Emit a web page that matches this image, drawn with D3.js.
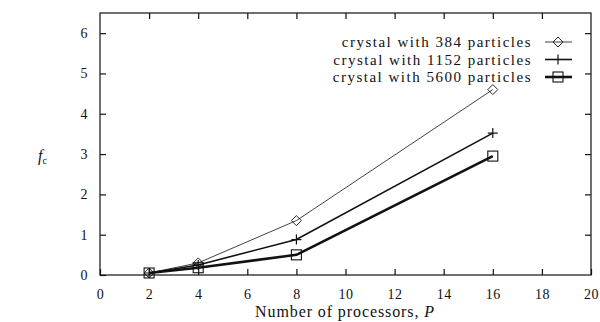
<!DOCTYPE html>
<html>
<head>
<meta charset="utf-8">
<script src="https://cdn.jsdelivr.net/npm/d3@7"></script>
<style>
  body { margin: 0; background: #fff; }
  svg text { font-family: "Liberation Serif", "DejaVu Serif", serif; fill: #111; }
</style>
</head>
<body>
<svg id="chart" width="600" height="322"></svg>
<script>
// data
const processors = [2, 4, 8, 16];
const crystal384 = [0.05, 0.30, 1.35, 4.60];
const crystal1152 = [0.05, 0.25, 0.88, 3.52];
const crystal5600 = [0.05, 0.18, 0.50, 2.95];
const xTicks = [0, 2, 4, 6, 8, 10, 12, 14, 16, 18, 20];
const yTicks = [0, 1, 2, 3, 4, 5, 6];

const series = [
  { label: 'crystal with 384 particles', values: crystal384, marker: 'diamond', width: 0.8 },
  { label: 'crystal with 1152 particles', values: crystal1152, marker: 'plus', width: 1.6 },
  { label: 'crystal with 5600 particles', values: crystal5600, marker: 'square', width: 2.6 }
];

const margin = { top: 13, right: 9, bottom: 47, left: 100 };
const width = 600, height = 322;
const innerW = width - margin.left - margin.right;
const innerH = height - margin.top - margin.bottom;

const svg = d3.select('#chart');
const g = svg.append('g').attr('transform', `translate(${margin.left},${margin.top})`);

const x = d3.scaleLinear().domain([0, 20]).range([0, innerW]);
const y = d3.scaleLinear().domain([0, 6.5]).range([innerH, 0]);

// frame
g.append('rect')
  .attr('width', innerW).attr('height', innerH)
  .attr('fill', 'none').attr('stroke', '#111').attr('stroke-width', 1.2);

// axes with inward ticks
const tickLen = 6;
const fmt = d3.format('d');
g.append('g')
  .attr('transform', `translate(0,${innerH})`)
  .call(d3.axisBottom(x).tickValues(xTicks).tickSize(-tickLen).tickPadding(14).tickFormat(fmt))
  .call(a => a.select('.domain').remove());

g.append('g')
  .call(d3.axisTop(x).tickValues(xTicks.slice(1, -1)).tickSize(-tickLen).tickFormat(''))
  .call(a => a.select('.domain').remove());

g.append('g')
  .call(d3.axisLeft(y).tickValues(yTicks).tickSize(-tickLen).tickPadding(12).tickFormat(fmt))
  .call(a => a.select('.domain').remove());

g.append('g')
  .attr('transform', `translate(${innerW},0)`)
  .call(d3.axisRight(y).tickValues(yTicks.slice(1)).tickSize(-tickLen).tickFormat(''))
  .call(a => a.select('.domain').remove());

g.selectAll('.tick line').attr('stroke', '#111').attr('stroke-width', 1.2);
g.selectAll('.tick text')
  .style('font-family', '"Liberation Serif", serif')
  .style('font-size', '14px')
  .style('letter-spacing', '0.5px');

// markers
function drawMarker(sel, type, cx, cy) {
  const s = 5;
  if (type === 'diamond') {
    sel.append('path')
      .attr('d', `M${cx},${cy - s} L${cx + s},${cy} L${cx},${cy + s} L${cx - s},${cy} Z`)
      .attr('fill', 'none').attr('stroke', '#111').attr('stroke-width', 0.9);
  } else if (type === 'plus') {
    sel.append('path')
      .attr('d', `M${cx - s},${cy} L${cx + s},${cy} M${cx},${cy - s} L${cx},${cy + s}`)
      .attr('stroke', '#111').attr('stroke-width', 1.2);
  } else {
    sel.append('rect')
      .attr('x', cx - s).attr('y', cy - s).attr('width', 2 * s).attr('height', 2 * s)
      .attr('fill', 'none').attr('stroke', '#111').attr('stroke-width', 1.1);
  }
}

const line = d3.line().x(d => x(d[0])).y(d => y(d[1]));

series.forEach(s => {
  const pts = processors.map((p, i) => [p, s.values[i]]);
  g.append('path')
    .datum(pts)
    .attr('d', line)
    .attr('fill', 'none')
    .attr('stroke', '#111')
    .attr('stroke-width', s.width);
  pts.forEach(p => drawMarker(g, s.marker, x(p[0]), y(p[1])));
});

// legend
const legend = svg.append('g').attr('transform', 'translate(532,42)');
series.forEach((s, i) => {
  const row = legend.append('g').attr('transform', `translate(0,${i * 17.5})`);
  row.append('text')
    .attr('x', 0).attr('y', 5)
    .attr('text-anchor', 'end')
    .style('font-size', '15px')
    .style('letter-spacing', '1.5px')
    .text(s.label);
  row.append('line')
    .attr('x1', 13).attr('x2', 40).attr('y1', 0).attr('y2', 0)
    .attr('stroke', '#111').attr('stroke-width', s.width);
  drawMarker(row, s.marker, 26, 0);
});

// axis titles
const xl = svg.append('text')
  .attr('x', 345).attr('y', 317)
  .attr('text-anchor', 'middle')
  .style('font-size', '16px')
  .style('letter-spacing', '0.9px');
xl.append('tspan').text('Number of processors, ');
xl.append('tspan').style('font-style', 'italic').text('P');

const yl = svg.append('text')
  .attr('x', 38).attr('y', 161)
  .style('font-size', '16px');
yl.append('tspan').style('font-style', 'italic').text('f');
yl.append('tspan').attr('dy', 3).style('font-size', '10px').text('c');
</script>
</body>
</html>
